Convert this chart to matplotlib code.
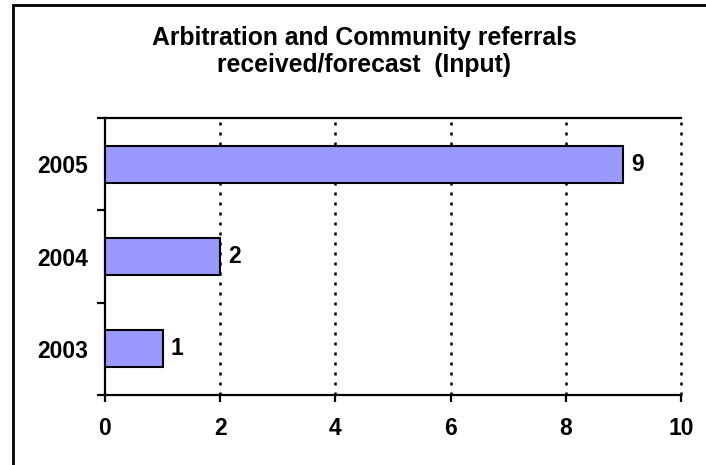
import matplotlib.pyplot as plt
from matplotlib.patches import Rectangle

# chart data
years = ['2003', '2004', '2005']
referrals = [1, 2, 9]
x_ticks = [0, 2, 4, 6, 8, 10]
title_lines = ['Arbitration and Community referrals', 'received/forecast  (Input)']

plt.rcParams['font.family'] = ['Liberation Sans', 'DejaVu Sans']
plt.rcParams['font.weight'] = 'bold'

fig = plt.figure(figsize=(7.06, 4.65), dpi=100)
ax = fig.add_axes([105 / 706, 1 - 395 / 465, 576 / 706, 277 / 465])

pos = list(range(len(years)))
ax.barh(pos, referrals, height=0.4, color='#9999FF', edgecolor='black', linewidth=1.5, zorder=3)

# value labels at bar ends
for p, v in zip(pos, referrals):
    ax.annotate(str(v), (v, p), xytext=(6, 0), textcoords='offset points',
                va='center', ha='left', fontsize=16.5, fontweight='bold')

ax.set_xlim(0, 10)
ax.set_ylim(-0.5, len(years) - 0.5)
ax.set_xticks(x_ticks)
ax.set_xticklabels([str(t) for t in x_ticks], fontsize=16.5, fontweight='bold')
ax.set_yticks(pos)
ax.set_yticklabels(years, fontsize=16.5, fontweight='bold')
ax.set_yticks([p - 0.5 for p in pos] + [pos[-1] + 0.5], minor=True)

ax.tick_params(axis='x', direction='out', length=5, width=1.6, pad=11)
ax.tick_params(axis='y', which='major', length=0, pad=12)
ax.tick_params(axis='y', which='minor', direction='out', length=6, width=1.6)

# dotted vertical gridlines
for t in x_ticks[1:]:
    ax.axvline(t, color='black', linewidth=1.8, linestyle=(0, (1.2, 2.8)), zorder=1, clip_on=False)

for s in ['left', 'bottom', 'top']:
    ax.spines[s].set_linewidth(1.6)
ax.spines['right'].set_visible(False)

# two-line title, baselines placed separately
for line, base in zip(title_lines, [45, 72]):
    fig.text(364 / 706, 1 - base / 465, line, ha='center', va='baseline',
             fontsize=17.8, fontweight='bold')

# outer chart frame (cut off on the right and bottom)
fig.patches.append(Rectangle((13 / 706, -0.05), 1.0, 1 - 5 / 465 + 0.05,
                             transform=fig.transFigure, fill=False,
                             edgecolor='black', linewidth=2))

fig.savefig('out.png', dpi=100)
